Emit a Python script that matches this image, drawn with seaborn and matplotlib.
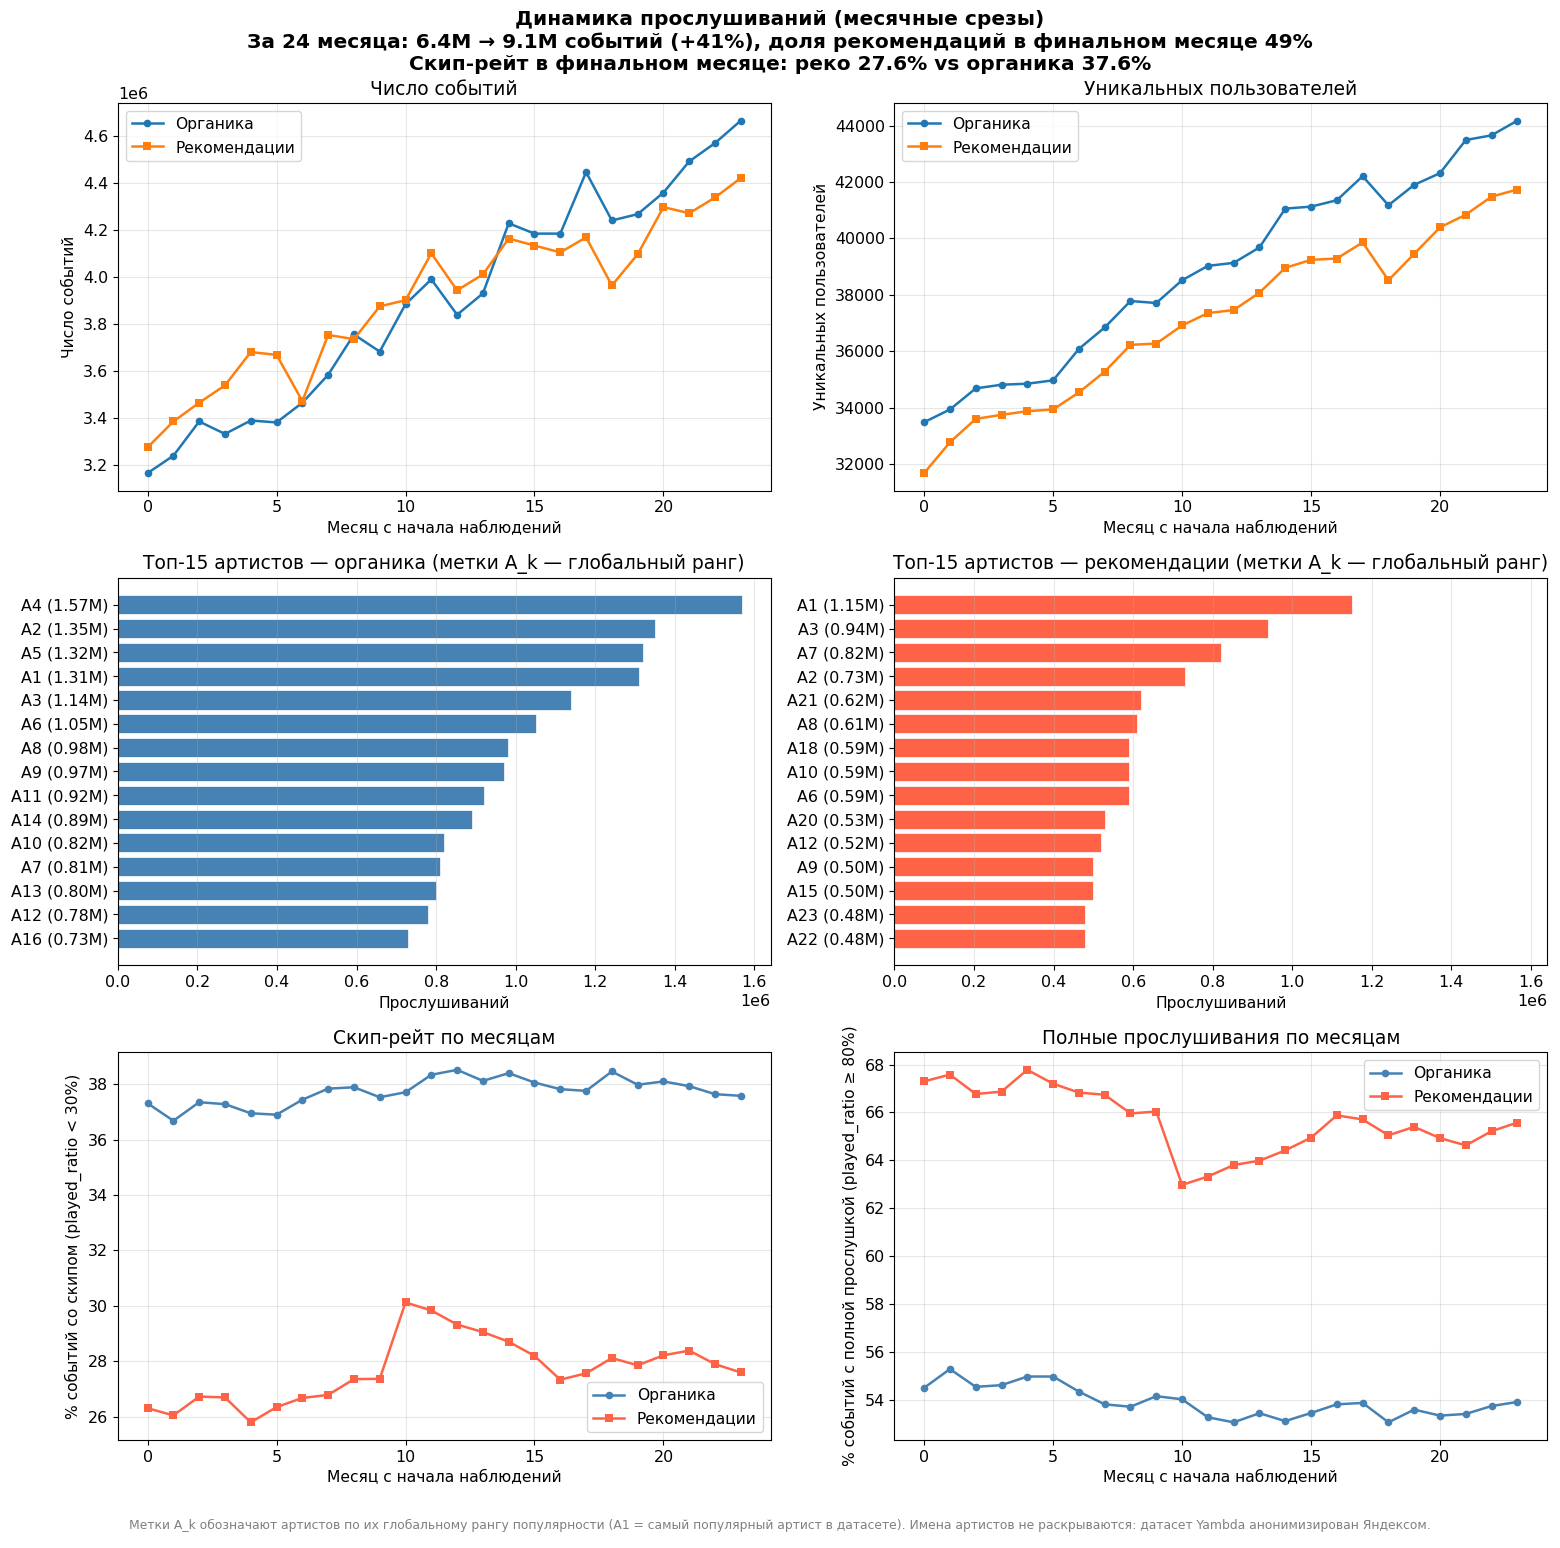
import numpy as np
import pandas as pd
import matplotlib
matplotlib.use('Agg')
import matplotlib.pyplot as plt
import seaborn as sns

plt.rcParams['xtick.labelsize'] = 11.4
plt.rcParams['ytick.labelsize'] = 11.4
plt.rcParams['axes.labelsize'] = 11.2
plt.rcParams['legend.fontsize'] = 11.2
plt.rcParams['axes.titlesize'] = 13.45

# месяцы наблюдений
months = list(range(24))

# число событий (органика / рекомендации)
events_org = [3.164e6, 3.238e6, 3.384e6, 3.331e6, 3.388e6, 3.380e6, 3.464e6, 3.583e6,
              3.755e6, 3.682e6, 3.884e6, 3.990e6, 3.839e6, 3.930e6, 4.229e6, 4.185e6,
              4.185e6, 4.447e6, 4.241e6, 4.268e6, 4.360e6, 4.493e6, 4.571e6, 4.667e6]
events_rec = [3.274e6, 3.384e6, 3.464e6, 3.538e6, 3.680e6, 3.668e6, 3.471e6, 3.753e6,
              3.735e6, 3.875e6, 3.901e6, 4.101e6, 3.943e6, 4.011e6, 4.164e6, 4.134e6,
              4.105e6, 4.169e6, 3.964e6, 4.097e6, 4.298e6, 4.272e6, 4.339e6, 4.422e6]

# уникальные пользователи
users_org = [33484, 33935, 34683, 34813, 34849, 34968, 36083, 36843, 37781, 37710, 38517, 39027,
             39134, 39680, 41057, 41128, 41354, 42208, 41176, 41900, 42315, 43490, 43656, 44179]
users_rec = [31680, 32772, 33602, 33745, 33875, 33935, 34540, 35276, 36226, 36273, 36914, 37353,
             37460, 38077, 38956, 39241, 39288, 39858, 38517, 39454, 40392, 40843, 41484, 41733]

# скип-рейт, %
skip_org = [37.31, 36.68, 37.35, 37.28, 36.95, 36.90, 37.44, 37.84, 37.89, 37.53, 37.71, 38.34,
            38.52, 38.12, 38.40, 38.06, 37.82, 37.76, 38.46, 37.98, 38.10, 37.93, 37.64, 37.58]
skip_rec = [26.30, 26.04, 26.72, 26.69, 25.79, 26.34, 26.67, 26.78, 27.35, 27.36, 30.12, 29.83,
            29.32, 29.05, 28.70, 28.19, 27.33, 27.56, 28.11, 27.85, 28.21, 28.38, 27.89, 27.59]

# полные прослушивания, %
full_org = [54.52, 55.30, 54.56, 54.63, 54.99, 54.99, 54.36, 53.83, 53.73, 54.17, 54.04, 53.29,
            53.08, 53.46, 53.13, 53.47, 53.83, 53.89, 53.08, 53.61, 53.36, 53.43, 53.76, 53.93]
full_rec = [67.30, 67.58, 66.77, 66.87, 67.78, 67.20, 66.83, 66.74, 65.96, 66.04, 62.98, 63.33,
            63.81, 63.99, 64.42, 64.95, 65.88, 65.71, 65.05, 65.40, 64.93, 64.63, 65.22, 65.58]

# топ-15 артистов
top_org_names = ['A4', 'A2', 'A5', 'A1', 'A3', 'A6', 'A8', 'A9', 'A11', 'A14', 'A10', 'A7', 'A13', 'A12', 'A16']
top_org_vals = [1.57e6, 1.35e6, 1.32e6, 1.31e6, 1.14e6, 1.05e6, 0.98e6, 0.97e6, 0.92e6, 0.89e6,
                0.82e6, 0.81e6, 0.80e6, 0.78e6, 0.73e6]
top_rec_names = ['A1', 'A3', 'A7', 'A2', 'A21', 'A8', 'A18', 'A10', 'A6', 'A20', 'A12', 'A9', 'A15', 'A23', 'A22']
top_rec_vals = [1.15e6, 0.94e6, 0.82e6, 0.73e6, 0.62e6, 0.61e6, 0.59e6, 0.59e6, 0.59e6, 0.53e6,
                0.52e6, 0.50e6, 0.50e6, 0.48e6, 0.48e6]

LBL_ORG = 'Органика'
LBL_REC = 'Рекомендации'
X_MONTH = 'Месяц с начала наблюдений'

fig, axes = plt.subplots(3, 2, figsize=(15.6, 15.48), dpi=100)
fig.subplots_adjust(left=0.0756, right=0.9917, top=0.9335, bottom=0.0698, hspace=0.224, wspace=0.19)


def line_pair(ax, y1, y2, c1, c2, title, ylabel, loc):
    sns.lineplot(x=months, y=y1, ax=ax, marker='o', markersize=5.5, markeredgewidth=0,
                 color=c1, linewidth=1.8, label=LBL_ORG)
    sns.lineplot(x=months, y=y2, ax=ax, marker='s', markersize=5.5, markeredgewidth=0,
                 color=c2, linewidth=1.8, label=LBL_REC)
    ax.set_title(title)
    ax.set_xlabel(X_MONTH)
    ax.set_ylabel(ylabel)
    ax.grid(alpha=0.3)
    ax.legend(loc=loc)


line_pair(axes[0, 0], events_org, events_rec, 'tab:blue', 'tab:orange',
          'Число событий', 'Число событий', 'upper left')
line_pair(axes[0, 1], users_org, users_rec, 'tab:blue', 'tab:orange',
          'Уникальных пользователей', 'Уникальных пользователей', 'upper left')


def top_bars(ax, names, vals, color, title):
    labels = [f'{n} ({v / 1e6:.2f}M)' for n, v in zip(names, vals)]
    sns.barplot(x=vals, y=labels, ax=ax, orient='h', color=color, saturation=1,
                width=0.8, edgecolor='white', linewidth=0.5)
    ax.set_title(title)
    ax.set_xlabel('Прослушиваний')
    ax.set_ylabel('')
    ax.grid(axis='x', alpha=0.3)


top_bars(axes[1, 0], top_org_names, top_org_vals, 'steelblue',
         'Топ-15 артистов — органика (метки A_k — глобальный ранг)')
top_bars(axes[1, 1], top_rec_names, top_rec_vals, 'tomato',
         'Топ-15 артистов — рекомендации (метки A_k — глобальный ранг)')
xmax = max(top_org_vals) * 1.045
for ax in axes[1]:
    ax.set_xlim(0, xmax)
    ax.set_ylim(14.4 + 0.74, -0.4 - 0.74)

line_pair(axes[2, 0], skip_org, skip_rec, 'steelblue', 'tomato',
          'Скип-рейт по месяцам', '% событий со скипом (played_ratio < 30%)', 'lower right')
line_pair(axes[2, 1], full_org, full_rec, 'steelblue', 'tomato',
          'Полные прослушивания по месяцам', '% событий с полной прослушкой (played_ratio ≥ 80%)', 'upper right')

fig.suptitle('Динамика прослушиваний (месячные срезы)\n'
             'За 24 месяца: 6.4M → 9.1M событий (+41%), доля рекомендаций в финальном месяце 49%\n'
             'Скип-рейт в финальном месяце: реко 27.6% vs органика 37.6%',
             fontsize=14.5, fontweight='bold', y=0.9935)

fig.text(0.5, 0.012, 'Метки A_k обозначают артистов по их глобальному рангу популярности '
         '(A1 = самый популярный артист в датасете). Имена артистов не раскрываются: '
         'датасет Yambda анонимизирован Яндексом.', ha='center', fontsize=8.9, color='gray')

fig.savefig('out.png', dpi=100)
